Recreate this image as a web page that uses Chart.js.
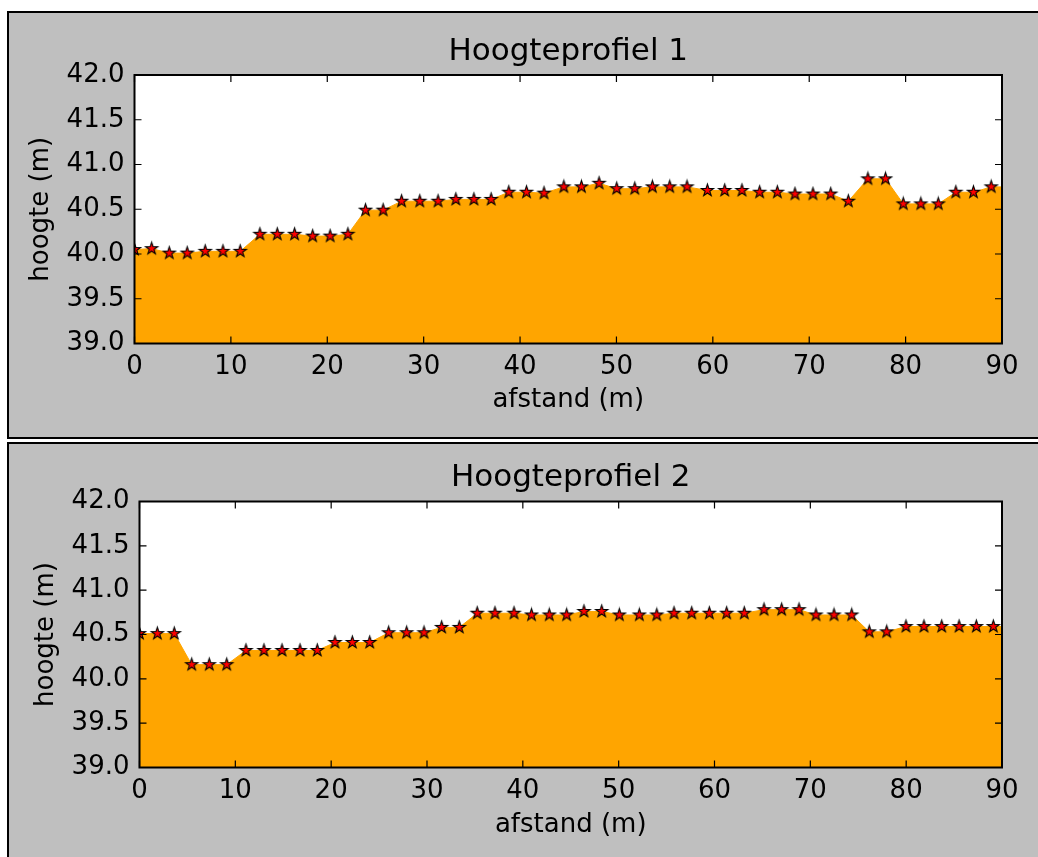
<!DOCTYPE html>
<html>
<head>
<meta charset="utf-8">
<script src="https://cdn.jsdelivr.net/npm/chart.js@4.4.1/dist/chart.umd.min.js"></script>
<style>
  html, body { margin: 0; padding: 0; background: #ffffff; width: 1038px; height: 857px; overflow: hidden; }
  .panel { position: absolute; left: 7px; width: 1100px; height: 424px; border: 2px solid #000; background: #bfbfbf; }
  #p1 { top: 11px; }
  #p2 { top: 442px; }
  canvas { position: absolute; left: 0; top: 0; }
</style>
</head>
<body>
<div class="panel" id="p1"><canvas id="c1" width="1040" height="424"></canvas></div>
<div class="panel" id="p2"><canvas id="c2" width="1040" height="424"></canvas></div>
<script>
// ---- data ----
const dist1 = [0.0, 1.78, 3.61, 5.47, 7.34, 9.18, 10.97, 13.01, 14.81, 16.61, 18.48, 20.30, 22.14, 23.97, 25.80, 27.71, 29.60, 31.50, 33.34, 35.21, 37.00, 38.83, 40.67, 42.49, 44.54, 46.37, 48.20, 50.03, 51.90, 53.73, 55.53, 57.32, 59.44, 61.23, 63.02, 64.86, 66.69, 68.52, 70.39, 72.23, 74.06, 76.09, 77.92, 79.76, 81.58, 83.39, 85.21, 87.04, 88.88];
const hoogte1 = [40.05, 40.06, 40.01, 40.01, 40.03, 40.03, 40.03, 40.22, 40.22, 40.22, 40.20, 40.20, 40.22, 40.49, 40.49, 40.59, 40.59, 40.59, 40.61, 40.61, 40.61, 40.69, 40.69, 40.68, 40.75, 40.75, 40.79, 40.73, 40.73, 40.75, 40.75, 40.75, 40.71, 40.71, 40.71, 40.69, 40.69, 40.67, 40.67, 40.67, 40.59, 40.84, 40.84, 40.56, 40.56, 40.56, 40.69, 40.69, 40.75];
const dist2 = [0.0, 1.86, 3.63, 5.45, 7.28, 9.10, 11.11, 12.99, 14.87, 16.75, 18.55, 20.40, 22.21, 24.02, 26.00, 27.88, 29.69, 31.53, 33.37, 35.24, 37.09, 39.08, 40.91, 42.76, 44.57, 46.38, 48.23, 50.07, 52.16, 53.98, 55.78, 57.62, 59.46, 61.27, 63.11, 65.17, 67.01, 68.82, 70.59, 72.47, 74.32, 76.15, 77.97, 79.98, 81.86, 83.71, 85.52, 87.32, 89.10];
const hoogte2 = [40.51, 40.51, 40.51, 40.16, 40.16, 40.16, 40.32, 40.32, 40.32, 40.32, 40.32, 40.41, 40.41, 40.41, 40.52, 40.52, 40.52, 40.58, 40.58, 40.74, 40.74, 40.74, 40.72, 40.72, 40.72, 40.76, 40.76, 40.72, 40.72, 40.72, 40.74, 40.74, 40.74, 40.74, 40.74, 40.78, 40.78, 40.78, 40.72, 40.72, 40.72, 40.53, 40.53, 40.59, 40.59, 40.59, 40.59, 40.59, 40.59];
const titles = ['Hoogteprofiel 1', 'Hoogteprofiel 2'];
const xLabel = 'afstand (m)';
const yLabel = 'hoogte (m)';
const xMin = 0, xMax = 90, xStep = 10;
const yMin = 39, yMax = 42, yStep = 0.5;

const FONT = "'DejaVu Sans', 'Liberation Sans', sans-serif";
Chart.defaults.color = '#000';
Chart.defaults.font.family = FONT;

function makeStar(R) {
  const size = Math.ceil(2 * R + 4);
  const c = document.createElement('canvas');
  c.width = size; c.height = size;
  const g = c.getContext('2d');
  const cx = size / 2, cy = size / 2;
  g.beginPath();
  for (let i = 0; i < 10; i++) {
    const r = i % 2 === 0 ? R : R * 0.381966;
    const a = -Math.PI / 2 + i * Math.PI / 5;
    g.lineTo(cx + r * Math.cos(a), cy + r * Math.sin(a));
  }
  g.closePath();
  g.fillStyle = '#ff0000';
  g.fill();
  g.lineWidth = 1.1;
  g.strokeStyle = '#000';
  g.stroke();
  return c;
}
const star = makeStar(6.4);

const framePlugin = {
  id: 'frame',
  beforeDraw(chart) {
    const { ctx, chartArea: a } = chart;
    ctx.save();
    ctx.fillStyle = '#ffffff';
    ctx.fillRect(a.left, a.top, a.right - a.left, a.bottom - a.top);
    ctx.restore();
  },
  afterDatasetsDraw(chart) {
    const { ctx, chartArea: a, scales } = chart;
    const x = scales.x, y = scales.y;
    const L = 7;
    ctx.save();
    ctx.strokeStyle = '#000';
    ctx.lineWidth = 1.2;
    ctx.beginPath();
    x.ticks.forEach(t => {
      const px = x.getPixelForValue(t.value);
      ctx.moveTo(px, a.bottom); ctx.lineTo(px, a.bottom - L);
      ctx.moveTo(px, a.top); ctx.lineTo(px, a.top + L);
    });
    y.ticks.forEach(t => {
      const py = y.getPixelForValue(t.value);
      ctx.moveTo(a.left, py); ctx.lineTo(a.left + L, py);
      ctx.moveTo(a.right, py); ctx.lineTo(a.right - L, py);
    });
    ctx.stroke();
    ctx.lineWidth = 2;
    ctx.strokeRect(a.left, a.top, a.right - a.left, a.bottom - a.top);
    ctx.restore();
  }
};

function makeChart(id, dist, hoogte, title, g) {
  const pts = dist.map((d, i) => ({ x: d, y: hoogte[i] }));
  const fillPts = pts.concat([{ x: xMax, y: hoogte[hoogte.length - 1] }]);
  return new Chart(document.getElementById(id), {
    type: 'line',
    data: {
      datasets: [
        {
          data: fillPts,
          fill: 'start',
          backgroundColor: '#ffa500',
          borderColor: '#ffa500',
          borderWidth: 1,
          pointRadius: 0,
          tension: 0,
          clip: 0,
          order: 2
        },
        {
          data: pts,
          showLine: false,
          fill: false,
          pointStyle: star,
          pointRadius: 7,
          clip: 0,
          order: 1
        }
      ]
    },
    options: {
      responsive: false,
      animation: false,
      events: [],
      layout: { padding: { left: 0, right: 1040 - g.right, top: 0, bottom: 0 } },
      plugins: {
        legend: { display: false },
        tooltip: { enabled: false },
        title: {
          display: true,
          text: title,
          fullSize: false,
          font: { family: FONT, size: 31, weight: 'normal' },
          color: '#000',
          padding: { top: g.titleTop, bottom: g.top - g.titleTop - 37.2 }
        }
      },
      scales: {
        x: {
          type: 'linear',
          min: xMin, max: xMax,
          grid: { display: false, drawTicks: false },
          border: { display: false },
          ticks: {
            stepSize: xStep, maxRotation: 0, padding: 8,
            font: { family: FONT, size: 26 }, color: '#000',
            callback: v => String(v)
          },
          title: {
            display: true, text: xLabel,
            font: { family: FONT, size: 26 }, color: '#000',
            padding: { top: 0, bottom: g.xTitlePad }
          },
          afterFit(s) { s.height = 424 - g.bottom; }
        },
        y: {
          type: 'linear',
          min: yMin, max: yMax,
          grid: { display: false, drawTicks: false },
          border: { display: false },
          ticks: {
            stepSize: yStep, padding: 10,
            font: { family: FONT, size: 26 }, color: '#000',
            callback: v => Number(v).toFixed(1)
          },
          title: {
            display: true, text: yLabel,
            font: { family: FONT, size: 26 }, color: '#000',
            padding: { top: g.yTitlePad, bottom: 0 }
          },
          afterFit(s) { s.width = g.left; }
        }
      }
    },
    plugins: [framePlugin]
  });
}

makeChart('c1', dist1, hoogte1, titles[0],
  { left: 125.5, right: 993, top: 62, bottom: 330.5, titleTop: 20.4, xTitlePad: 21.4, yTitlePad: 16.4 });
makeChart('c2', dist2, hoogte2, titles[1],
  { left: 130.5, right: 993, top: 57.5, bottom: 323.5, titleTop: 15.4, xTitlePad: 27.4, yTitlePad: 21.4 });
</script>
</body>
</html>
